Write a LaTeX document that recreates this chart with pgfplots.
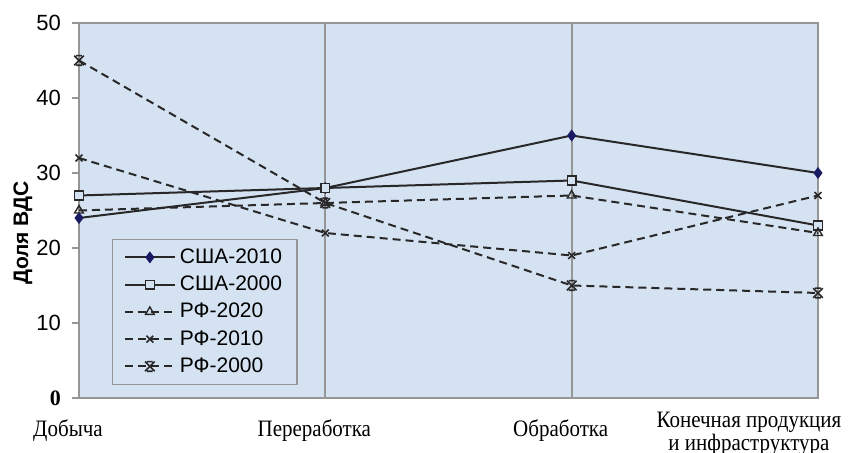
\documentclass[border=0pt]{standalone}
\usepackage{fontspec}
\setmainfont{Liberation Serif}
\setsansfont{Liberation Sans}
\usepackage{pgfplots}
\pgfplotsset{compat=1.18}
\usetikzlibrary{calc}
\definecolor{bgblue}{RGB}{212,226,242}
\definecolor{framec}{RGB}{150,150,150}
\definecolor{lnc}{RGB}{40,40,40}
\definecolor{navyc}{RGB}{25,25,100}

\pgfdeclareplotmark{xstar}{%
  \pgfpathmoveto{\pgfqpoint{-\pgfplotmarksize}{-\pgfplotmarksize}}%
  \pgfpathlineto{\pgfqpoint{\pgfplotmarksize}{\pgfplotmarksize}}%
  \pgfpathmoveto{\pgfqpoint{-\pgfplotmarksize}{\pgfplotmarksize}}%
  \pgfpathlineto{\pgfqpoint{\pgfplotmarksize}{-\pgfplotmarksize}}%
  \pgfpathmoveto{\pgfqpoint{-0.6\pgfplotmarksize}{\pgfplotmarksize}}%
  \pgfpathlineto{\pgfqpoint{0.6\pgfplotmarksize}{\pgfplotmarksize}}%
  \pgfpathmoveto{\pgfqpoint{-0.6\pgfplotmarksize}{-\pgfplotmarksize}}%
  \pgfpathlineto{\pgfqpoint{0.6\pgfplotmarksize}{-\pgfplotmarksize}}%
  \pgfusepathqstroke}

\begin{document}
\begin{tikzpicture}
\begin{axis}[
  scale only axis, width=369.5pt, height=187.5pt,
  xmin=0, xmax=3, ymin=0, ymax=50,
  axis background/.style={fill=bgblue},
  axis line style={framec, line width=0.9pt},
  xtick={0,1,2}, xticklabels={Добыча,Переработка,Обработка},
  extra x ticks={3},
  extra x tick labels={Конечная продукция\\и инфраструктура},
  extra x tick style={grid=none, xticklabel style={xshift=-29pt, yshift=3.2pt}},
  xmajorgrids, major x grid style={framec, line width=1pt},
  x tick style={draw=none},
  ytick pos=left,
  ytick={0,10,20,30,40,50},
  yticklabels={{\rmfamily\bfseries\hspace*{-2.5pt}0},10,20,30,40,50},
  y tick style={framec, line width=0.8pt},
  tick align=outside, major tick length=3.5pt,
  yticklabel style={font=\sffamily\fontsize{11}{11}\selectfont, xshift=-2pt},
  xticklabel style={font=\rmfamily\fontsize{10.5}{10.2}\selectfont, yscale=1.12, align=center, xshift=-5.5pt, yshift=-3pt},
  ylabel={Доля ВДС},
  ylabel style={font=\sffamily\bfseries\fontsize{10.5}{10.5}\selectfont, at={(axis description cs:-0.0758,0.44)}, anchor=center},
  legend style={at={(rel axis cs:0.045,0.035)}, anchor=south west, fill=bgblue, draw=framec, line width=0.6pt,
    font=\sffamily\fontsize{10.5}{10.5}\selectfont, inner xsep=5.5pt, inner ysep=2.5pt, row sep=0.8pt},
  legend cell align=left,
  legend image code/.code={\draw[mark repeat=2,mark phase=2] plot coordinates {(0pt,0pt) (12.5pt,0pt) (25pt,0pt)};},
  every axis plot/.append style={lnc, line width=1pt},
]
\addplot[lnc, mark=diamond*, mark size=2.2pt, mark options={solid, fill=navyc, draw=navyc}] coordinates {(0,24) (1,28) (2,35) (3,30)};
\addlegendentry{США-2010}
\addplot[lnc, mark=square*, mark size=2.2pt, mark options={solid, fill=bgblue, draw=lnc, line width=0.7pt}] coordinates {(0,27) (1,28) (2,29) (3,23)};
\addlegendentry{США-2000}
\addplot[lnc, dash pattern=on 4pt off 2.5pt, mark=triangle, mark size=2.5pt, mark options={solid, line width=0.7pt}] coordinates {(0,25) (1,26) (2,27) (3,22)};
\addlegendentry{РФ-2020}
\addplot[lnc, dash pattern=on 4pt off 2.5pt, mark=x, mark size=2.4pt, mark options={solid, line width=0.8pt}] coordinates {(0,32) (1,22) (2,19) (3,27)};
\addlegendentry{РФ-2010}
\addplot[lnc, dash pattern=on 4pt off 2.5pt, mark=xstar, mark size=2.4pt, mark options={solid, line width=0.8pt}] coordinates {(0,45) (1,26) (2,15) (3,14)};
\addlegendentry{РФ-2000}
\end{axis}
\pgfresetboundingbox
\path[use as bounding box] ($(current axis.south west)+(-39.5pt,-27.5pt)$) rectangle ($(current axis.north east)+(16.5pt,11.5pt)$);
\end{tikzpicture}
\end{document}
